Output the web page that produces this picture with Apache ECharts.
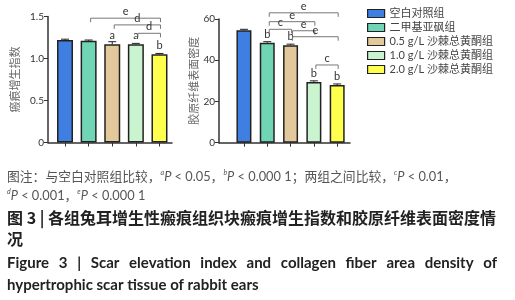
<!DOCTYPE html>
<html><head><meta charset="utf-8">
<script src="https://cdn.jsdelivr.net/npm/echarts@6/dist/echarts.min.js"></script>
<style>html,body{margin:0;padding:0;background:#fff;}#c{width:515px;height:300px;}</style>
</head><body><div id="c"></div>
<script>
// ---- data ----
var groups = ['空白对照组', '二甲基亚砜组', '0.5 g/L 沙棘总黄酮组', '1.0 g/L 沙棘总黄酮组', '2.0 g/L 沙棘总黄酮组'];
var scarIndex = [1.22, 1.21, 1.17, 1.17, 1.05];
var scarErr = [0.01, 0.01, 0.03, 0.01, 0.01];
var scarMarks = ['', '', 'a', 'a', 'b'];
var collagen = [54.5, 48.5, 47.3, 29.5, 28.0];
var collagenErr = [0.5, 0.5, 0.5, 0.5, 0.5];
var collagenMarks = ['', 'b', 'b', 'b', 'b'];
// brackets: [fromIndex, toIndex, level, label]
var scarBrackets = [[1, 4, 1.48, 'e'], [2, 4, 1.40, 'd'], [3, 4, 1.30, 'd']];
var collagenBrackets = [[1, 4, 63, 'e'], [1, 3, 58.7, 'e'], [1, 2, 55, 'c'], [2, 3, 54.3, 'e'], [2, 4, 51.4, 'e'], [3, 4, 37.7, 'c']];
var colors = ['#3f7fe2', '#6fd5b5', '#e2c89a', '#c9f4cf', '#ffff4d'];

var chart = echarts.init(document.getElementById('c'));
var LATIN = 'Lato, "Noto Sans CJK SC", sans-serif';
var AX = '#333';

function barSeries(ci, values, marks) {
  return groups.map(function (g, i) {
    return {
      type: 'bar', name: g, xAxisIndex: ci, yAxisIndex: ci, stack: 's' + ci,
      barWidth: ci === 0 ? 16 : 15,
      itemStyle: { color: colors[i], borderColor: '#222', borderWidth: 1.5 },
      data: [[i, values[i]]],
      label: { show: !!marks[i], position: 'top', distance: 3, formatter: marks[i] || '',
        fontFamily: LATIN, fontSize: 11, color: '#333' },
      z: 2
    };
  });
}
function errSeries(ci, values, errs) {
  return {
    type: 'custom', xAxisIndex: ci, yAxisIndex: ci, z: 3, silent: true,
    data: values.map(function (v, i) { return [i, v]; }),
    renderItem: function (p, api) {
      var i = p.dataIndex, v = values[i], e = errs[i];
      var a = api.coord([i, v]), b = api.coord([i, v + e]);
      return { type: 'group', children: [
        { type: 'line', shape: { x1: a[0], y1: a[1], x2: b[0], y2: b[1] }, style: { stroke: '#222', lineWidth: 1 } },
        { type: 'line', shape: { x1: b[0] - 4, y1: b[1], x2: b[0] + 4, y2: b[1] }, style: { stroke: '#222', lineWidth: 1 } }
      ] };
    }
  };
}
function bracketSeries(ci, brackets) {
  return {
    type: 'custom', xAxisIndex: ci, yAxisIndex: ci, z: 4, silent: true, clip: false,
    data: brackets.map(function (b) { return [b[0], b[2]]; }),
    renderItem: function (p, api) {
      var b = brackets[p.dataIndex];
      var p1 = api.coord([b[0], b[2]]), p2 = api.coord([b[1], b[2]]);
      var x1 = p1[0] + 2, x2 = p2[0] + 1, y = p1[1];
      return { type: 'group', children: [
        { type: 'polyline', shape: { points: [[x1, y + 4], [x1, y], [x2, y], [x2, y + 4]] },
          style: { stroke: '#777', lineWidth: 1, fill: null } },
        { type: 'text', x: (x1 + x2) / 2, y: y - 1,
          style: { text: b[3], fontFamily: LATIN, fontSize: 11, fill: '#333', align: 'center', verticalAlign: 'bottom' } }
      ] };
    }
  };
}

function xAxis(ci, min, max) {
  return { type: 'value', gridIndex: ci, min: min, max: max,
    axisLine: { onZero: false, lineStyle: { color: AX, width: 1.5 } },
    splitLine: { show: false }, axisLabel: { show: false },
    axisTick: { show: true, length: 4, lineStyle: { color: AX, width: 1 }, customValues: [0, 1, 2, 3, 4] } };
}
function yAxis(ci, max, interval, name, gap) {
  return { type: 'value', gridIndex: ci, min: 0, max: max, interval: interval,
    name: name, nameLocation: 'middle', nameGap: gap, nameRotate: 90,
    nameTextStyle: { fontFamily: '"Noto Sans CJK SC", sans-serif', fontSize: 11, color: '#666' },
    axisLine: { show: true, onZero: false, lineStyle: { color: AX, width: 1.5 } },
    axisTick: { show: true, length: 4, lineStyle: { color: AX } },
    splitLine: { show: false },
    axisLabel: { fontFamily: LATIN, fontSize: 10, color: '#333', margin: 4,
      formatter: function (v) { return v === 0 ? '0' : (interval < 1 ? v.toFixed(1) : String(v)); } } };
}

var FS = 12.8;
var sup = { fontSize: 7, fontFamily: LATIN, fill: '#555', verticalAlign: 'top', lineHeight: 15, fontStyle: 'italic' };
var cap = { fontSize: FS, fontFamily: '"Noto Sans CJK SC", sans-serif', fill: '#555', lineHeight: 15 };
var lat = { fontSize: FS, fontFamily: LATIN, fill: '#555', lineHeight: 15 };
var ita = { fontSize: FS, fontFamily: LATIN, fill: '#555', lineHeight: 15, fontStyle: 'italic' };
var rich = { t: cap, s: sup, i: ita, l: lat };

var figWords = ['Figure', '3', '|', 'Scar', 'elevation', 'index', 'and', 'collagen', 'fiber', 'area', 'density', 'of'];
var figText = figWords.map(function (w) { return '{w|' + w + '}'; }).join('{g| }');

var option = {
  animation: false,
  grid: [
    { left: 48, top: 16.5, width: 124, height: 126 },
    { left: 219, top: 19, width: 131, height: 123.7 }
  ],
  xAxis: [xAxis(0, -0.72, 4.53), xAxis(1, -1.07, 4.55)],
  yAxis: [yAxis(0, 1.5, 0.5, '瘢痕增生指数', 28), yAxis(1, 60, 20, '胶原纤维表面密度', 16)],
  legend: { orient: 'vertical', left: 362, top: 3, itemWidth: 17, itemHeight: 8, itemGap: 3,
    icon: 'rect', itemStyle: { borderColor: '#222', borderWidth: 1.2 },
    textStyle: { fontFamily: LATIN, fontSize: 11, color: '#444' },
    data: groups },
  series: [].concat(
    barSeries(0, scarIndex, scarMarks), [errSeries(0, scarIndex, scarErr), bracketSeries(0, scarBrackets)],
    barSeries(1, collagen, collagenMarks), [errSeries(1, collagen, collagenErr), bracketSeries(1, collagenBrackets)]
  ),
  graphic: [
    { type: 'text', left: 7, top: 169, style: { rich: rich,
      text: '{t|图注：与空白对照组比较，}{s|a}{i|P}{l| < 0.05，}{s|b}{i|P}{l| < 0.000 1；}{t|两组之间比较，}{s|c}{i|P}{l| < 0.01，}' } },
    { type: 'text', left: 7, top: 188, style: { rich: rich,
      text: '{s|d}{i|P}{l| < 0.001，}{s|e}{i|P}{l| < 0.000 1}' } },
    { type: 'text', left: 7, top: 210, style: { text: '图 3 | 各组兔耳增生性瘢痕组织块瘢痕增生指数和胶原纤维表面密度情',
      font: 'bold 16px "Noto Sans CJK SC", sans-serif', fill: '#222' } },
    { type: 'text', left: 7, top: 231, style: { text: '况', font: 'bold 16px "Noto Sans CJK SC", sans-serif', fill: '#222' } },
    { type: 'text', left: 7, top: 256, style: { text: figText, rich: {
      w: { font: 'bold 15px Lato, sans-serif', fill: '#222' },
      g: { font: 'bold 15px Lato, sans-serif', width: 9.7 } } } },
    { type: 'text', left: 7, top: 278, style: { text: 'hypertrophic scar tissue of rabbit ears',
      font: 'bold 15px Lato, sans-serif', fill: '#222' } }
  ]
};
chart.setOption(option);
</script></body></html>
